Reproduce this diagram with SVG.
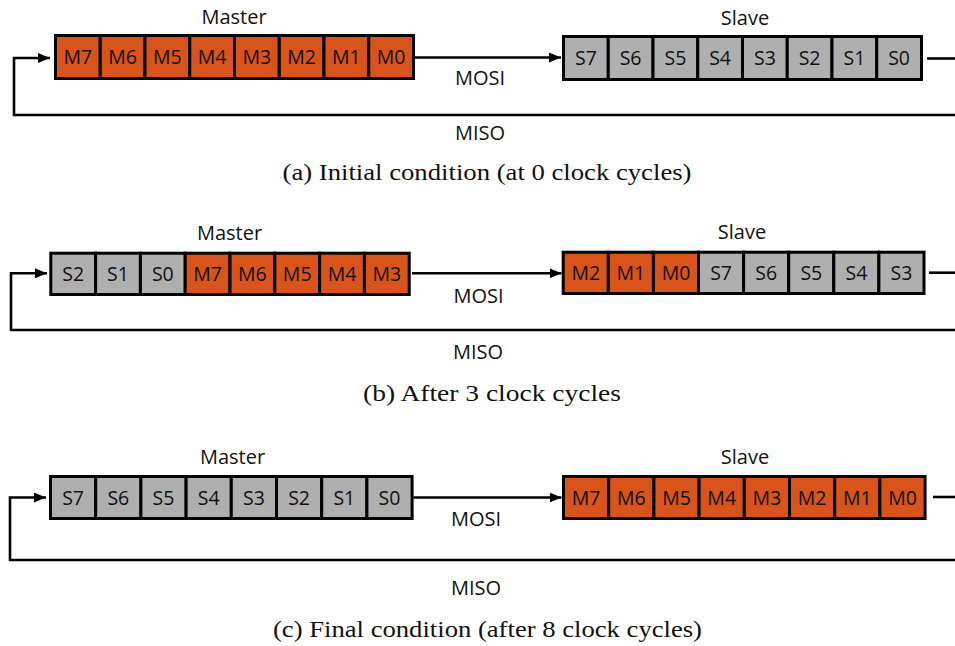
<svg xmlns="http://www.w3.org/2000/svg" width="955" height="646" viewBox="0 0 955 646">
<defs>
<marker id="ah" markerUnits="userSpaceOnUse" markerWidth="12" markerHeight="10" refX="12" refY="5" orient="auto">
<path d="M0,0 L12,5 L0,10 z" fill="#000"/>
</marker>
<style>
.m{fill:#D9541A;stroke:#000;stroke-width:3}
.s{fill:#AFAFAF;stroke:#000;stroke-width:3}
.ct{font-family:"Open Sans","Liberation Sans",sans-serif;font-size:19.5px;fill:#111;text-anchor:middle}
.lb{font-family:"Open Sans","Liberation Sans",sans-serif;font-size:20px;fill:#111;text-anchor:middle}
.cap{font-family:"Liberation Serif","Times New Roman",serif;font-size:24px;fill:#111;text-anchor:middle}
.ln{fill:none;stroke:#000;stroke-width:2.6}
</style>
</defs>
<rect width="955" height="646" fill="#fff"/>

<g id="connectors">
<line class="ln" x1="415" y1="57.5" x2="561" y2="57.5" marker-end="url(#ah)"/>
<line class="ln" x1="927" y1="58.5" x2="955" y2="58.5"/>
<polyline class="ln" points="955,115 14,115 14,58 50,58" marker-end="url(#ah)"/>

<line class="ln" x1="412" y1="273.3" x2="561.5" y2="273.3" marker-end="url(#ah)"/>
<line class="ln" x1="929" y1="272.7" x2="955" y2="272.7"/>
<polyline class="ln" points="955,330 11,330 11,273.3 47,273.3" marker-end="url(#ah)"/>

<line class="ln" x1="413.5" y1="497.5" x2="561.5" y2="497.5" marker-end="url(#ah)"/>
<line class="ln" x1="933" y1="497" x2="955" y2="497"/>
<polyline class="ln" points="955,560 10,560 10,497.5 46,497.5" marker-end="url(#ah)"/>
</g>

<g id="master-a">
<text class="lb" x="234" y="24">Master</text>
<rect class="m" x="55.5" y="35.5" width="44.75" height="43"/>
<rect class="m" x="100.25" y="35.5" width="44.75" height="43"/>
<rect class="m" x="145" y="35.5" width="44.75" height="43"/>
<rect class="m" x="189.75" y="35.5" width="44.75" height="43"/>
<rect class="m" x="234.5" y="35.5" width="44.75" height="43"/>
<rect class="m" x="279.25" y="35.5" width="44.75" height="43"/>
<rect class="m" x="324" y="35.5" width="44.75" height="43"/>
<rect class="m" x="368.75" y="35.5" width="44.75" height="43"/>
<text class="ct" x="77.9" y="64">M7</text>
<text class="ct" x="122.6" y="64">M6</text>
<text class="ct" x="167.4" y="64">M5</text>
<text class="ct" x="212.1" y="64">M4</text>
<text class="ct" x="256.9" y="64">M3</text>
<text class="ct" x="301.6" y="64">M2</text>
<text class="ct" x="346.4" y="64">M1</text>
<text class="ct" x="391.1" y="64">M0</text>
</g>

<g id="slave-a">
<text class="lb" x="745" y="25">Slave</text>
<rect class="s" x="563.5" y="36.5" width="44.75" height="43"/>
<rect class="s" x="608.25" y="36.5" width="44.75" height="43"/>
<rect class="s" x="653" y="36.5" width="44.75" height="43"/>
<rect class="s" x="697.75" y="36.5" width="44.75" height="43"/>
<rect class="s" x="742.5" y="36.5" width="44.75" height="43"/>
<rect class="s" x="787.25" y="36.5" width="44.75" height="43"/>
<rect class="s" x="832" y="36.5" width="44.75" height="43"/>
<rect class="s" x="876.75" y="36.5" width="44.75" height="43"/>
<text class="ct" x="585.9" y="65">S7</text>
<text class="ct" x="630.6" y="65">S6</text>
<text class="ct" x="675.4" y="65">S5</text>
<text class="ct" x="720.1" y="65">S4</text>
<text class="ct" x="764.9" y="65">S3</text>
<text class="ct" x="809.6" y="65">S2</text>
<text class="ct" x="854.4" y="65">S1</text>
<text class="ct" x="899.1" y="65">S0</text>
</g>

<g id="labels-a">
<text class="lb" x="480" y="85">MOSI</text>
<text class="lb" x="480" y="140">MISO</text>
<text class="cap" x="487" y="180" textLength="409" lengthAdjust="spacingAndGlyphs">(a) Initial condition (at 0 clock cycles)</text>
</g>

<g id="master-b">
<text class="lb" x="229.5" y="240">Master</text>
<rect class="s" x="50.8" y="253.2" width="44.8" height="41.3"/>
<rect class="s" x="95.6" y="253.2" width="44.8" height="41.3"/>
<rect class="s" x="140.4" y="253.2" width="44.8" height="41.3"/>
<rect class="m" x="185.2" y="253.2" width="44.8" height="41.3"/>
<rect class="m" x="230" y="253.2" width="44.8" height="41.3"/>
<rect class="m" x="274.8" y="253.2" width="44.8" height="41.3"/>
<rect class="m" x="319.6" y="253.2" width="44.8" height="41.3"/>
<rect class="m" x="364.4" y="253.2" width="44.8" height="41.3"/>
<text class="ct" x="73.2" y="281">S2</text>
<text class="ct" x="118" y="281">S1</text>
<text class="ct" x="162.8" y="281">S0</text>
<text class="ct" x="207.6" y="281">M7</text>
<text class="ct" x="252.4" y="281">M6</text>
<text class="ct" x="297.2" y="281">M5</text>
<text class="ct" x="342" y="281">M4</text>
<text class="ct" x="386.8" y="281">M3</text>
</g>

<g id="slave-b">
<text class="lb" x="742" y="239">Slave</text>
<rect class="m" x="563.2" y="252.2" width="45.1" height="41.3"/>
<rect class="m" x="608.3" y="252.2" width="45.1" height="41.3"/>
<rect class="m" x="653.4" y="252.2" width="45.1" height="41.3"/>
<rect class="s" x="698.5" y="252.2" width="45.1" height="41.3"/>
<rect class="s" x="743.6" y="252.2" width="45.1" height="41.3"/>
<rect class="s" x="788.7" y="252.2" width="45.1" height="41.3"/>
<rect class="s" x="833.8" y="252.2" width="45.1" height="41.3"/>
<rect class="s" x="878.9" y="252.2" width="45.1" height="41.3"/>
<text class="ct" x="585.8" y="280">M2</text>
<text class="ct" x="630.9" y="280">M1</text>
<text class="ct" x="676" y="280">M0</text>
<text class="ct" x="721.1" y="280">S7</text>
<text class="ct" x="766.2" y="280">S6</text>
<text class="ct" x="811.3" y="280">S5</text>
<text class="ct" x="856.4" y="280">S4</text>
<text class="ct" x="901.5" y="280">S3</text>
</g>

<g id="labels-b">
<text class="lb" x="478.5" y="303">MOSI</text>
<text class="lb" x="478" y="359">MISO</text>
<text class="cap" x="492" y="401" textLength="258" lengthAdjust="spacingAndGlyphs">(b) After 3 clock cycles</text>
</g>

<g id="master-c">
<text class="lb" x="232.5" y="464">Master</text>
<rect class="s" x="50.5" y="476.5" width="45.2" height="42"/>
<rect class="s" x="95.7" y="476.5" width="45.2" height="42"/>
<rect class="s" x="140.9" y="476.5" width="45.2" height="42"/>
<rect class="s" x="186.1" y="476.5" width="45.2" height="42"/>
<rect class="s" x="231.3" y="476.5" width="45.2" height="42"/>
<rect class="s" x="276.5" y="476.5" width="45.2" height="42"/>
<rect class="s" x="321.7" y="476.5" width="45.2" height="42"/>
<rect class="s" x="366.9" y="476.5" width="45.2" height="42"/>
<text class="ct" x="73.1" y="504.5">S7</text>
<text class="ct" x="118.3" y="504.5">S6</text>
<text class="ct" x="163.5" y="504.5">S5</text>
<text class="ct" x="208.7" y="504.5">S4</text>
<text class="ct" x="253.9" y="504.5">S3</text>
<text class="ct" x="299.1" y="504.5">S2</text>
<text class="ct" x="344.3" y="504.5">S1</text>
<text class="ct" x="389.5" y="504.5">S0</text>
</g>

<g id="slave-c">
<text class="lb" x="745" y="464">Slave</text>
<rect class="m" x="563.5" y="476.5" width="45.2" height="42"/>
<rect class="m" x="608.7" y="476.5" width="45.2" height="42"/>
<rect class="m" x="653.9" y="476.5" width="45.2" height="42"/>
<rect class="m" x="699.1" y="476.5" width="45.2" height="42"/>
<rect class="m" x="744.3" y="476.5" width="45.2" height="42"/>
<rect class="m" x="789.5" y="476.5" width="45.2" height="42"/>
<rect class="m" x="834.7" y="476.5" width="45.2" height="42"/>
<rect class="m" x="879.9" y="476.5" width="45.2" height="42"/>
<text class="ct" x="586.1" y="504.5">M7</text>
<text class="ct" x="631.3" y="504.5">M6</text>
<text class="ct" x="676.5" y="504.5">M5</text>
<text class="ct" x="721.7" y="504.5">M4</text>
<text class="ct" x="766.9" y="504.5">M3</text>
<text class="ct" x="812.1" y="504.5">M2</text>
<text class="ct" x="857.3" y="504.5">M1</text>
<text class="ct" x="902.5" y="504.5">M0</text>
</g>

<g id="labels-c">
<text class="lb" x="476" y="526">MOSI</text>
<text class="lb" x="476" y="595">MISO</text>
<text class="cap" x="487.5" y="637" textLength="429" lengthAdjust="spacingAndGlyphs">(c) Final condition (after 8 clock cycles)</text>
</g>
</svg>
